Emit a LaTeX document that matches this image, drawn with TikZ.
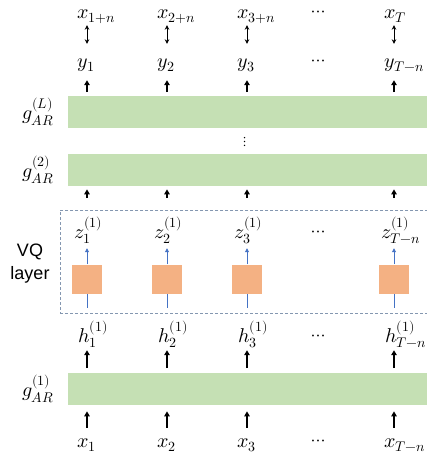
\documentclass[tikz,border=0pt]{standalone}
\usepackage{unicode-math}
\setsansfont{Liberation Sans}
\usetikzlibrary{positioning,arrows.meta,calc}
\definecolor{cBar}{HTML}{C5E0B4}
\definecolor{cVq}{HTML}{F4B183}
\definecolor{cBlu}{HTML}{4472C4}
\definecolor{cDash}{HTML}{8497B0}

\begin{document}
\begin{tikzpicture}[x=1pt,y=-1pt,
  lbl/.style={inner sep=0pt,anchor=base west,text height=10pt,text depth=5pt,font=\fontsize{20}{24}\selectfont},
  dots/.style={inner sep=0pt,anchor=base,font=\fontsize{18}{21}\selectfont},
  glab/.style={inner sep=0pt,font=\fontsize{20}{24}\selectfont},
  bar/.style={fill=cBar,draw=none,minimum width=370pt,minimum height=32pt,inner sep=0pt,anchor=north west},
  vq/.style={fill=cVq,draw=none,minimum width=30pt,minimum height=29pt,inner sep=0pt},
  frame/.style={draw=cDash,dash pattern=on 3pt off 2pt,line width=0.8pt,inner sep=0pt,anchor=north west},
  up/.style={-{Triangle[length=5pt,width=5.5pt]},line width=2pt},
  dbl/.style={{Stealth[length=4.5pt,width=4.5pt]}-{Stealth[length=4.5pt,width=4.5pt]},line width=0.9pt},
  blu/.style={cBlu,line width=0.8pt}]
\clip (0,0) rectangle (427,456);
% ---------- bars and VQ frame ----------
\node[bar] (gL) at (68,96) {};
\node[bar] (g2) at (68,154) {};
\node[bar] (g1) at (68,373) {};
\node[frame,minimum width=380pt,minimum height=103pt] (vqbox) at (60,210) {};
\node[glab,left=14pt of gL.west] {$g_{AR}^{(L)}$};
\node[glab,left=14pt of g2.west] {$g_{AR}^{(2)}$};
\node[glab,left=14pt of g1.west] {$g_{AR}^{(1)}$};
\node[font=\sffamily\fontsize{18}{23}\selectfont,align=center] (vqlab) at (30,264) {VQ\\layer};
\node[font=\fontsize{14}{16}\selectfont] (vd) at (245,142) {$\vdots$};
% ---------- columns ----------
\foreach \i/\k/\s in {1/87/1,2/167/2,3/247/3,4/394/{T-n}}{
  \coordinate (k\i) at (\k,0);
  \node[vq] (q\i) at (\k,279) {};
  \node[lbl] (y\i) at (\k-10,67) {$y_{\s}$};
  \node[lbl] (z\i) at (\k-13,238) {$z_{\s}^{(1)}$};
  \node[lbl] (h\i) at (\k-9,342) {$h_{\s}^{(1)}$};
  \node[lbl] (xb\i) at (\k-10,447) {$x_{\s}$};
  \draw[up,shorten <=4pt,shorten >=8pt] (gL.north -| k\i) -- (y\i.south -| k\i);
  \draw[up,shorten <=12pt,shorten >=3pt] (vqbox.north -| k\i) -- (g2.south -| k\i);
  \draw[up,shorten <=5pt,shorten >=3pt] (g1.north -| k\i) -- (h\i.south -| k\i);
  \draw[up,shorten <=9pt,shorten >=6pt] (xb\i.north -| k\i) -- (g1.south -| k\i);
  \draw[blu,shorten <=6pt] (vqbox.south -| q\i) -- (q\i.south);
  \draw[blu,-{Triangle[length=4pt,width=4pt]},shorten >=5pt] (q\i.north) -- (z\i.south -| q\i);
}
\foreach \i/\s in {1/{1+n},2/{2+n},3/{3+n},4/T}{
  \node[lbl] (xt\i) at ($(k\i)+(-10,18)$) {$x_{\s}$};
  \draw[dbl,shorten <=2pt,shorten >=13pt] (xt\i.south -| k\i) -- (y\i.north -| k\i);
}
\foreach \r/\b in {t/16,y/65,z/236,h/340,b/445}{
  \node[dots] (dt\r) at (318,\b) {$\cdots$};
}
\end{tikzpicture}
\end{document}
